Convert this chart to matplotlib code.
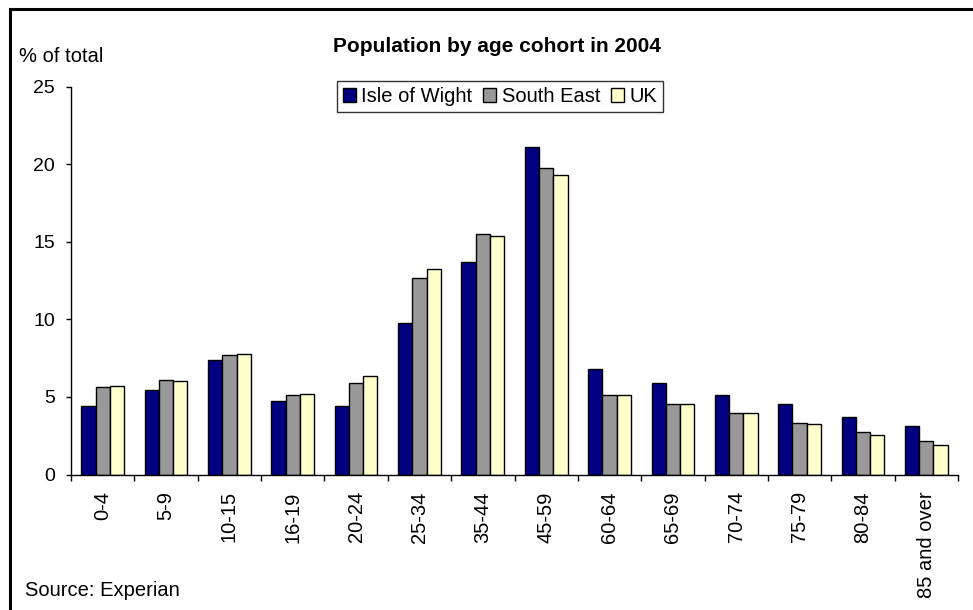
import numpy as np
import matplotlib
matplotlib.use("Agg")
import matplotlib.pyplot as plt
from matplotlib.lines import Line2D

plt.rcParams['font.family'] = ['Liberation Sans', 'DejaVu Sans']

# age cohorts and share of population (% of total)
cohorts = ["0-4", "5-9", "10-15", "16-19", "20-24", "25-34", "35-44",
           "45-59", "60-64", "65-69", "70-74", "75-79", "80-84", "85 and over"]
isle_of_wight = [4.4, 5.45, 7.38, 4.77, 4.39, 9.74, 13.7, 21.1, 6.82, 5.91, 5.12, 4.54, 3.72, 3.1]
south_east = [5.66, 6.06, 7.72, 5.1, 5.89, 12.69, 15.48, 19.78, 5.1, 4.52, 3.98, 3.33, 2.71, 2.17]
uk = [5.68, 6.02, 7.74, 5.2, 6.32, 13.23, 15.38, 19.29, 5.1, 4.54, 3.96, 3.27, 2.52, 1.89]

W, H = 973, 610
fig = plt.figure(figsize=(W/100, H/100), dpi=100)
ax = fig.add_axes([71/W, 1-474.5/H, 887/W, 387.8/H])

x = np.arange(len(cohorts))
w = 0.225
ax.bar(x - w, isle_of_wight, w, color="#000080", edgecolor="black", linewidth=1, label="Isle of Wight")
ax.bar(x, south_east, w, color="#999999", edgecolor="black", linewidth=1, label="South East")
ax.bar(x + w, uk, w, color="#FFFFCC", edgecolor="black", linewidth=1, label="UK")

ax.set_xlim(-0.5, len(cohorts) - 0.5)
ax.set_ylim(0, 25)
ax.set_yticks([0, 5, 10, 15, 20, 25])
ax.tick_params(axis='y', labelsize=14, length=3.5, width=1, pad=8)

ax.set_xticks(x)
ax.set_xticklabels(cohorts, rotation=90, fontsize=14.5, va='top')
ax.tick_params(axis='x', length=0, pad=12)
ax.set_xticks(np.arange(len(cohorts) + 1) - 0.5, minor=True)
ax.tick_params(axis='x', which='minor', length=4.5, width=1)

for s in ['top', 'right']:
    ax.spines[s].set_visible(False)
for s in ['left', 'bottom']:
    ax.spines[s].set_linewidth(1)

leg = ax.legend(loc='upper center', bbox_to_anchor=(500/W, 1-81/H), bbox_transform=fig.transFigure,
                ncol=3, fontsize=14.5, frameon=True, fancybox=False, edgecolor='black',
                handlelength=0.65, handleheight=0.65, handletextpad=0.25, columnspacing=0.55,
                borderpad=0.3, borderaxespad=0)
leg.get_frame().set_linewidth(1)

fig.text(497/W, 1-46/H, "Population by age cohort in 2004", fontsize=15, fontweight='bold',
         ha='center', va='center')
fig.text(19/W, 1-56/H, "% of total", fontsize=14.5, ha='left', va='center')
fig.text(25/W, 1-590/H, "Source: Experian", fontsize=14.5, ha='left', va='center')

# frame: line along the top and down the left side
fig.add_artist(Line2D([10/W, 1], [1-9/H, 1-9/H], transform=fig.transFigure, color='black', linewidth=2.2))
fig.add_artist(Line2D([10/W, 10/W], [1-9/H, 0], transform=fig.transFigure, color='black', linewidth=2.2))

fig.savefig("out.png", dpi=100)
